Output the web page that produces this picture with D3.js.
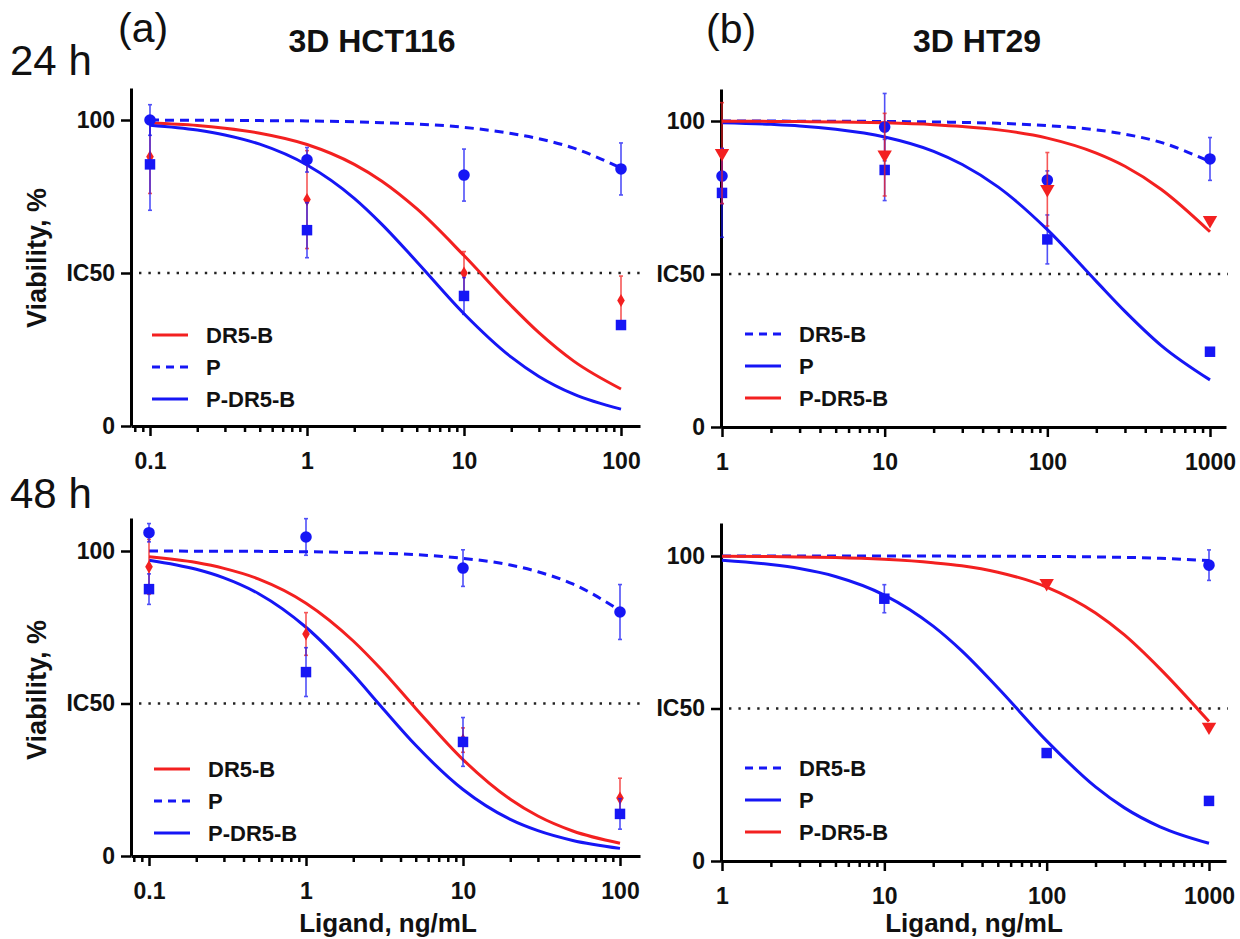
<!DOCTYPE html>
<html>
<head>
<meta charset="utf-8">
<script src="https://cdn.jsdelivr.net/npm/d3@7"></script>
<style>
  body { margin: 0; background: #fff; }
  svg { display: block; font-family: "Liberation Sans", Arial, sans-serif; }
</style>
</head>
<body>
<svg id="chart" width="1240" height="939"></svg>
<script>
// ---- data ----
var dosesHCT = [0.1, 1, 10, 100];
var dosesHT = [1, 10, 100, 1000];
var ticksHCT = ["0.1", "1", "10", "100"];
var ticksHT = ["1", "10", "100", "1000"];
var yTicks = [0, 50, 100];
var yTickLabels = ["0", "IC50", "100"];

// x positions where the fitted curves were read
var gridHCT = [0.1, 0.2, 0.3, 0.5, 1, 2, 3, 5, 10, 20, 30, 50, 100];
var gridHT = [1, 2, 3, 5, 10, 20, 30, 50, 100, 200, 300, 500, 1000];

// (a) 24 h, 3D HCT116
var a_dr5b_fit  = [99.0, 98.2, 97.3, 95.7, 92.0, 85.5, 80.0, 71.0, 55.7, 39.3, 30.5, 21.2, 12.1];
var a_p_fit     = [100, 99.9, 99.9, 99.8, 99.7, 99.4, 99.1, 98.7, 97.6, 95.6, 93.9, 90.8, 84.3];
var a_pdr5b_fit = [98.3, 96.7, 95.1, 92.1, 85.3, 74.4, 65.9, 53.7, 36.7, 22.5, 16.2, 10.4, 5.5];
var a_p_mean = [100, 87, 82, 84],      a_p_err = [5, 4, 8.5, 8.5];
var a_pdr5b_mean = [85.5, 64, 42.5, 33], a_pdr5b_err = [15, 9, 6, 2];
var a_dr5b_mean = [88, 74, 50, 41],    a_dr5b_err = [12, 16, 7, 8];

// (b) 24 h, 3D HT29
var b_dr5b_fit  = [99.99, 99.97, 99.95, 99.92, 99.85, 99.7, 99.55, 99.25, 98.5, 97.1, 95.7, 93.0, 86.7];
var b_p_fit     = [99.45, 98.9, 98.4, 97.3, 94.8, 90.1, 85.8, 78.4, 64.5, 47.6, 37.8, 26.7, 15.4];
var b_pdr5b_fit = [99.93, 99.87, 99.8, 99.7, 99.4, 98.8, 98.2, 97.1, 94.4, 89.5, 85.2, 77.7, 63.8];
var b_dr5b_mean = [82, 98, 80.7, 87.6],  b_dr5b_err = [9, 11, 3, 7];
var b_p_mean = [76.5, 84, 61.3, 24.6],   b_p_err = [14.5, 10, 8, 1];
var b_pdr5b_mean = [89.5, 89, 77.7, 67.6], b_pdr5b_err = [16.5, 13.5, 12, 2];

// (a) 48 h, 3D HCT116
var c_dr5b_fit  = [98.1, 96.2, 94.3, 90.8, 82.9, 70.5, 61.3, 48.4, 31.6, 18.6, 13.1, 8.2, 4.2];
var c_p_fit     = [99.98, 99.95, 99.93, 99.88, 99.76, 99.5, 99.3, 98.8, 97.6, 95.4, 93.2, 89.2, 80.5];
var c_pdr5b_fit = [97.0, 94.0, 91.2, 86.0, 75.0, 59.5, 49.1, 36.3, 21.8, 12.0, 8.3, 5.1, 2.5];
var c_p_mean = [106, 104.6, 94.4, 80],     c_p_err = [3, 6, 6, 9];
var c_pdr5b_mean = [87.5, 60.3, 37.4, 13.8], c_pdr5b_err = [5, 8, 8, 5];
var c_dr5b_mean = [94.8, 72.8, 38, 19],    c_dr5b_err = [9, 7, 4, 6.5];

// (b) 48 h, 3D HT29
var d_dr5b_fit  = [100, 100, 100, 99.99, 99.98, 99.97, 99.95, 99.92, 99.85, 99.7, 99.55, 99.25, 98.5];
var d_p_fit     = [98.6, 97.2, 95.9, 93.3, 87.2, 77.0, 68.9, 56.8, 39.4, 24.3, 17.5, 11.2, 5.8];
var d_pdr5b_fit = [99.9, 99.8, 99.7, 99.5, 98.9, 97.8, 96.8, 94.7, 89.8, 81.3, 74.2, 63.0, 45.7];
var d_dr5b_mean = [null, null, null, 97],   d_dr5b_err = [0, 0, 0, 5];
var d_p_mean = [null, 86, 35.4, 19.7],      d_p_err = [0, 4.6, 1.5, 1];
var d_pdr5b_mean = [null, null, 91.1, 44],  d_pdr5b_err = [0, 0, 2, 2];

var RED = "#f32020", BLUE = "#1616f5";

// ---- panels (layout lives here, not in the data) ----
var panels = [
  { left: 131, right: 640, x0: 150, x1: 621, dom: [0.1, 100], yZero: 426, y100: 120,
    doses: dosesHCT, ticks: ticksHCT, grid: gridHCT, legendX: 152, legendY: 335,
    series: [
      { name: "DR5-B", color: RED, dash: null, fit: a_dr5b_fit, mean: a_dr5b_mean, err: a_dr5b_err, sym: "diamond" },
      { name: "P", color: BLUE, dash: "9,6", fit: a_p_fit, mean: a_p_mean, err: a_p_err, sym: "circle" },
      { name: "P-DR5-B", color: BLUE, dash: null, fit: a_pdr5b_fit, mean: a_pdr5b_mean, err: a_pdr5b_err, sym: "square" }
    ] },
  { left: 721, right: 1226, x0: 722, x1: 1210, dom: [1, 1000], yZero: 427, y100: 121,
    doses: dosesHT, ticks: ticksHT, grid: gridHT, legendX: 745, legendY: 334,
    series: [
      { name: "DR5-B", color: BLUE, dash: "9,6", fit: b_dr5b_fit, mean: b_dr5b_mean, err: b_dr5b_err, sym: "circle" },
      { name: "P", color: BLUE, dash: null, fit: b_p_fit, mean: b_p_mean, err: b_p_err, sym: "square" },
      { name: "P-DR5-B", color: RED, dash: null, fit: b_pdr5b_fit, mean: b_pdr5b_mean, err: b_pdr5b_err, sym: "triangle" }
    ] },
  { left: 131, right: 640, x0: 149, x1: 620, dom: [0.1, 100], yZero: 856, y100: 551,
    doses: dosesHCT, ticks: ticksHCT, grid: gridHCT, legendX: 154, legendY: 769,
    series: [
      { name: "DR5-B", color: RED, dash: null, fit: c_dr5b_fit, mean: c_dr5b_mean, err: c_dr5b_err, sym: "diamond" },
      { name: "P", color: BLUE, dash: "9,6", fit: c_p_fit, mean: c_p_mean, err: c_p_err, sym: "circle" },
      { name: "P-DR5-B", color: BLUE, dash: null, fit: c_pdr5b_fit, mean: c_pdr5b_mean, err: c_pdr5b_err, sym: "square" }
    ] },
  { left: 721, right: 1226, x0: 722, x1: 1209, dom: [1, 1000], yZero: 861, y100: 556,
    doses: dosesHT, ticks: ticksHT, grid: gridHT, legendX: 745, legendY: 768,
    series: [
      { name: "DR5-B", color: BLUE, dash: "9,6", fit: d_dr5b_fit, mean: d_dr5b_mean, err: d_dr5b_err, sym: "circle" },
      { name: "P", color: BLUE, dash: null, fit: d_p_fit, mean: d_p_mean, err: d_p_err, sym: "square" },
      { name: "P-DR5-B", color: RED, dash: null, fit: d_pdr5b_fit, mean: d_pdr5b_mean, err: d_pdr5b_err, sym: "triangle" }
    ] }
];

var svg = d3.select("#chart");

var symbols = {
  circle: d3.symbol().type(d3.symbolCircle).size(105),
  square: d3.symbol().type(d3.symbolSquare).size(110),
  diamond: d3.symbol().type(d3.symbolDiamond).size(50),
  triangle: d3.symbol().type(d3.symbolTriangle).size(90)
};

panels.forEach(function(p) {
  var g = svg.append("g");

  // log x scale, stretched so the axis line runs from the y axis to the right end
  var tmp = d3.scaleLog().domain(p.dom).range([p.x0, p.x1]);
  var x = d3.scaleLog().domain([tmp.invert(p.left), tmp.invert(p.right)]).range([p.left, p.right]);
  var tmpY = d3.scaleLinear().domain([0, 100]).range([p.yZero, p.y100]);
  var y = d3.scaleLinear().domain([0, tmpY.invert(p.yZero - 338)]).range([p.yZero, p.yZero - 338]);

  // minor log ticks
  var minor = [];
  var lo = Math.floor(Math.log10(x.domain()[0])), hi = Math.ceil(Math.log10(p.dom[1]));
  for (var e = lo; e < hi; e++) {
    for (var k = 2; k <= 9; k++) {
      var v = k * Math.pow(10, e);
      if (v >= x.domain()[0] && v < p.dom[1]) minor.push(v);
    }
  }
  g.append("g")
    .attr("transform", "translate(0," + p.yZero + ")")
    .call(d3.axisBottom(x).tickValues(minor).tickFormat("").tickSize(6))
    .call(function(s) { s.select(".domain").remove(); })
    .selectAll("line").attr("stroke", "#000").attr("stroke-width", 2.5);

  var xAxis = g.append("g")
    .attr("transform", "translate(0," + p.yZero + ")")
    .call(d3.axisBottom(x).tickValues(p.doses).tickFormat(function(d, i) { return p.ticks[i]; })
      .tickSize(10).tickSizeOuter(0).tickPadding(17));
  xAxis.select(".domain").attr("stroke", "#000").attr("stroke-width", 3);
  xAxis.selectAll(".tick line").attr("stroke", "#000").attr("stroke-width", 2.5);
  xAxis.selectAll(".tick text").attr("font-size", 23).attr("font-weight", "bold").attr("fill", "#111")
    .attr("font-family", "Liberation Sans, Arial, sans-serif");

  var yAxis = g.append("g")
    .attr("transform", "translate(" + p.left + ",0)")
    .call(d3.axisLeft(y).tickValues(yTicks).tickFormat(function(d, i) { return yTickLabels[i]; })
      .tickSize(10).tickSizeOuter(0).tickPadding(6));
  yAxis.select(".domain").attr("stroke", "#000").attr("stroke-width", 3);
  yAxis.selectAll(".tick line").attr("stroke", "#000").attr("stroke-width", 2.5);
  yAxis.selectAll(".tick text").attr("font-size", 23).attr("font-weight", "bold").attr("fill", "#111")
    .attr("font-family", "Liberation Sans, Arial, sans-serif");

  // IC50 dotted line
  g.append("line")
    .attr("x1", p.left + 8).attr("x2", p.right + 2)
    .attr("y1", y(50)).attr("y2", y(50))
    .attr("stroke", "#222").attr("stroke-width", 2.4)
    .attr("stroke-dasharray", "2.4,7");

  // fitted curves
  var line = d3.line()
    .x(function(d) { return x(d[0]); })
    .y(function(d) { return y(d[1]); })
    .curve(d3.curveMonotoneX);
  p.series.forEach(function(s) {
    g.append("path")
      .datum(p.grid.map(function(xv, i) { return [xv, s.fit[i]]; }))
      .attr("fill", "none")
      .attr("stroke", s.color)
      .attr("stroke-width", 3)
      .attr("stroke-dasharray", s.dash)
      .attr("d", line);
  });

  // error bars, then markers
  p.series.forEach(function(s) {
    var pts = p.doses.map(function(xv, i) { return { x: xv, m: s.mean[i], e: s.err[i] }; })
      .filter(function(d) { return d.m != null; });
    var eb = g.append("g").attr("stroke", s.color).attr("stroke-width", 1.6).attr("opacity", 0.75);
    pts.forEach(function(d) {
      if (d.e < 2.5) return;
      eb.append("line").attr("x1", x(d.x)).attr("x2", x(d.x))
        .attr("y1", y(d.m - d.e)).attr("y2", y(d.m + d.e));
      [d.m - d.e, d.m + d.e].forEach(function(v) {
        eb.append("line").attr("x1", x(d.x) - 2).attr("x2", x(d.x) + 2)
          .attr("y1", y(v)).attr("y2", y(v));
      });
    });
    g.selectAll(null).data(pts).enter().append("path")
      .attr("d", symbols[s.sym])
      .attr("transform", function(d) {
        return "translate(" + x(d.x) + "," + y(d.m) + ")" + (s.sym === "triangle" ? " rotate(180)" : "");
      })
      .attr("fill", s.color);
  });

  // legend
  p.series.forEach(function(s, i) {
    var ly = p.legendY + i * 32;
    g.append("line")
      .attr("x1", p.legendX).attr("x2", p.legendX + 36)
      .attr("y1", ly).attr("y2", ly)
      .attr("stroke", s.color).attr("stroke-width", 3)
      .attr("stroke-dasharray", s.dash ? "8,6" : null);
    g.append("text")
      .attr("x", p.legendX + 54).attr("y", ly).attr("dy", "0.36em")
      .attr("font-size", 22).attr("font-weight", "bold").attr("fill", "#111")
      .text(s.name);
  });
});

// labels
function label(txt, x, y, size, weight, anchor, rot) {
  var t = svg.append("text")
    .attr("x", x).attr("y", y)
    .attr("font-size", size).attr("font-weight", weight)
    .attr("text-anchor", anchor).attr("fill", "#111").text(txt);
  if (rot) t.attr("transform", "rotate(" + rot + "," + x + "," + y + ")");
  return t;
}
label("24 h", 10, 75, 42, "normal", "start");
label("(a)", 118, 42, 41, "normal", "start");
label("3D HCT116", 372, 52, 32, "bold", "middle");
label("(b)", 706, 43, 41, "normal", "start");
label("3D HT29", 977, 52, 32, "bold", "middle");
label("48 h", 10, 508, 42, "normal", "start");
label("Viability, %", 46, 258, 27, "bold", "middle", -90);
label("Viability, %", 46, 690, 27, "bold", "middle", -90);
label("Ligand, ng/mL", 388, 932, 26, "bold", "middle");
label("Ligand, ng/mL", 974, 932, 26, "bold", "middle");
</script>
</body>
</html>
